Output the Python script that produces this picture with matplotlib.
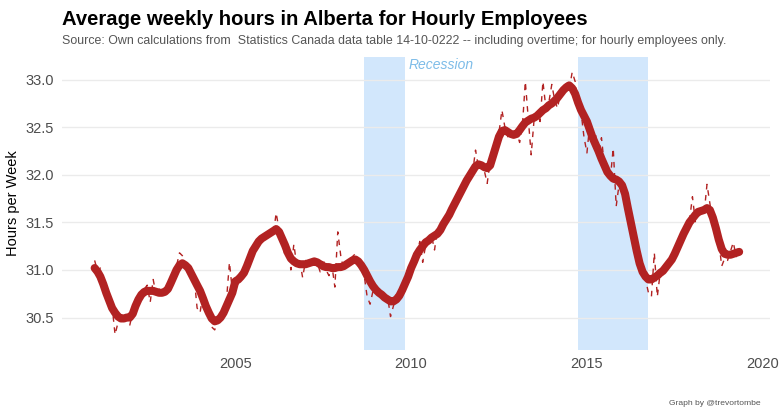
import numpy as np
import pandas as pd
import matplotlib
matplotlib.use("Agg")
import matplotlib.pyplot as plt
import matplotlib.dates as mdates

plt.rcParams['font.family'] = ['Liberation Sans', 'DejaVu Sans']

# Monthly data, Jan 2001 - May 2019
raw_hours = [
    31.10, 30.98, 31.02, 30.88, 30.80, 30.74, 30.62, 30.32, 30.45, 30.52, 30.46, 30.55,  # 2001
    30.42, 30.56, 30.58, 30.72, 30.70, 30.80, 30.84, 30.66, 30.90, 30.74, 30.80, 30.72,  # 2002
    30.78, 30.74, 30.90, 30.88, 31.04, 31.18, 31.15, 31.08, 30.98, 31.04, 30.92, 30.60,  # 2003
    30.55, 30.76, 30.60, 30.58, 30.40, 30.37, 30.45, 30.52, 30.58, 30.68, 31.08, 30.78,  # 2004
    30.90, 30.86, 30.98, 31.00, 31.08, 31.14, 31.24, 31.28, 31.34, 31.30, 31.38, 31.36,  # 2005
    31.42, 31.38, 31.60, 31.42, 31.30, 31.15, 31.22, 31.00, 31.27, 31.05, 31.10, 30.92,  # 2006
    31.10, 31.02, 31.12, 31.06, 31.08, 30.98, 31.12, 31.00, 30.94, 31.05, 30.82, 31.40,  # 2007
    31.15, 31.00, 31.04, 31.10, 31.14, 31.17, 31.10, 31.02, 30.94, 30.72, 30.64, 30.78,  # 2008
    30.80, 30.70, 30.80, 30.66, 30.72, 30.51, 30.62, 30.74, 30.70, 30.80, 30.88, 30.92,  # 2009
    31.00, 31.12, 31.16, 31.30, 31.08, 31.26, 31.32, 31.36, 31.21, 31.42, 31.38, 31.50,  # 2010
    31.55, 31.56, 31.66, 31.70, 31.78, 31.80, 31.92, 31.90, 31.98, 32.02, 32.26, 32.08,  # 2011
    32.12, 32.04, 31.91, 32.14, 32.16, 32.34, 32.44, 32.68, 32.50, 32.40, 32.46, 32.38,  # 2012
    32.45, 32.34, 32.50, 32.98, 32.60, 32.21, 32.58, 32.66, 32.56, 32.98, 32.70, 32.76,  # 2013
    32.95, 32.78, 32.70, 32.86, 32.84, 32.96, 32.90, 33.08, 32.98, 32.72, 32.66, 32.40,  # 2014
    32.23, 32.55, 32.36, 32.42, 32.22, 32.39, 32.10, 32.04, 31.96, 32.28, 31.67, 31.90,  # 2015
    31.92, 31.78, 31.62, 31.50, 31.38, 31.20, 31.05, 31.00, 30.90, 30.76, 30.72, 31.18,  # 2016
    30.72, 30.98, 30.95, 31.06, 31.02, 31.15, 31.20, 31.22, 31.34, 31.40, 31.38, 31.52,  # 2017
    31.77, 31.50, 31.60, 31.66, 31.58, 31.90, 31.70, 31.48, 31.42, 31.30, 31.04, 31.12,  # 2018
    31.10, 31.20, 31.29, 31.14, 31.22,                                                   # 2019
]

smooth_hours = [
    31.02, 30.98, 30.93, 30.85, 30.76, 30.68, 30.60, 30.55, 30.51, 30.49, 30.49, 30.50,
    30.50, 30.54, 30.62, 30.69, 30.74, 30.77, 30.78, 30.78, 30.78, 30.77, 30.76, 30.76,
    30.77, 30.80, 30.86, 30.93, 31.00, 31.05, 31.07, 31.05, 31.02, 30.96, 30.90, 30.84,
    30.78, 30.70, 30.62, 30.55, 30.49, 30.46, 30.47, 30.50, 30.55, 30.62, 30.69, 30.76,
    30.88, 30.90, 30.93, 30.97, 31.04, 31.12, 31.20, 31.25, 31.30, 31.33, 31.35, 31.37,
    31.39, 31.41, 31.43, 31.40, 31.33, 31.26, 31.18, 31.12, 31.09, 31.07, 31.06, 31.06,
    31.06, 31.07, 31.08, 31.09, 31.08, 31.06, 31.04, 31.03, 31.03, 31.02, 31.02, 31.03,
    31.03, 31.04, 31.06, 31.08, 31.10, 31.11, 31.09, 31.05, 31.00, 30.94, 30.88, 30.83,
    30.79, 30.76, 30.74, 30.71, 30.69, 30.67, 30.67, 30.69, 30.73, 30.79, 30.86, 30.93,
    31.02, 31.09, 31.16, 31.21, 31.25, 31.29, 31.31, 31.34, 31.36, 31.38, 31.42, 31.48,
    31.53, 31.58, 31.64, 31.70, 31.76, 31.82, 31.88, 31.94, 31.99, 32.04, 32.09, 32.11,
    32.10, 32.08, 32.07, 32.10, 32.20, 32.30, 32.40, 32.46, 32.47, 32.45, 32.43, 32.42,
    32.43, 32.47, 32.51, 32.55, 32.57, 32.59, 32.60, 32.62, 32.65, 32.68, 32.70, 32.73,
    32.75, 32.78, 32.81, 32.85, 32.89, 32.92, 32.94, 32.91, 32.85, 32.76, 32.68, 32.62,
    32.56, 32.47, 32.39, 32.32, 32.25, 32.17, 32.10, 32.03, 31.99, 31.96, 31.95, 31.93,
    31.89, 31.80, 31.65, 31.50, 31.35, 31.20, 31.07, 30.98, 30.93, 30.90, 30.90, 30.92,
    30.94, 30.97, 30.99, 31.03, 31.07, 31.11, 31.17, 31.24, 31.31, 31.38, 31.44, 31.50,
    31.54, 31.58, 31.61, 31.62, 31.63, 31.65, 31.63, 31.55, 31.44, 31.32, 31.22, 31.17,
    31.16, 31.16, 31.17, 31.18, 31.19,
]

dates = pd.date_range("2001-01-01", periods=len(raw_hours), freq="MS")

recessions = [("2008-09-01", "2009-11-01"), ("2014-10-01", "2016-10-01")]

fig = plt.figure(figsize=(7.8, 4.18), dpi=100)
ax = fig.add_axes([0.08, 0.163, 0.907, 0.701])

for start, end in recessions:
    ax.axvspan(pd.Timestamp(start), pd.Timestamp(end), color="#d2e7fc", lw=0, zorder=0)

ax.text(pd.Timestamp("2009-12-10"), 33.15, "Recession", color="#7dbce8",
        style="italic", fontsize=10, va="center", ha="left")

ax.plot(dates, raw_hours, color="#b22222", lw=1.0, ls=(0, (4, 4)), zorder=2)
ax.plot(dates, smooth_hours, color="#b22222", lw=5.8, solid_capstyle="round", zorder=3)

ax.set_ylim(30.16, 33.24)
ax.set_xlim(pd.Timestamp("2000-02-01"), pd.Timestamp("2020-03-15"))
ax.set_yticks([30.5, 31.0, 31.5, 32.0, 32.5, 33.0])
ax.set_yticklabels(["30.5", "31.0", "31.5", "32.0", "32.5", "33.0"])
ax.xaxis.set_major_locator(mdates.YearLocator(5))
ax.xaxis.set_major_formatter(mdates.DateFormatter("%Y"))

ax.grid(axis="y", color="#ebebeb", lw=1)
ax.set_axisbelow(True)
for s in ax.spines.values():
    s.set_visible(False)
ax.tick_params(length=0, labelsize=10.5, labelcolor="#4d4d4d", pad=6)
ax.tick_params(axis="x", pad=5)
ax.set_ylabel("Hours per Week", fontsize=10.5, color="black", labelpad=4)

fig.text(0.08, 0.953, "Average weekly hours in Alberta for Hourly Employees",
         fontsize=14.6, fontweight="bold", va="center", ha="left")
fig.text(0.08, 0.902, "Source: Own calculations from  Statistics Canada data table 14-10-0222 -- including overtime; for hourly employees only.",
         fontsize=8.9, color="#555555", va="center", ha="left")
fig.text(0.975, 0.035, "Graph by @trevortombe", fontsize=6.1, color="#555555",
         va="center", ha="right")

fig.savefig("out.png", dpi=100)
